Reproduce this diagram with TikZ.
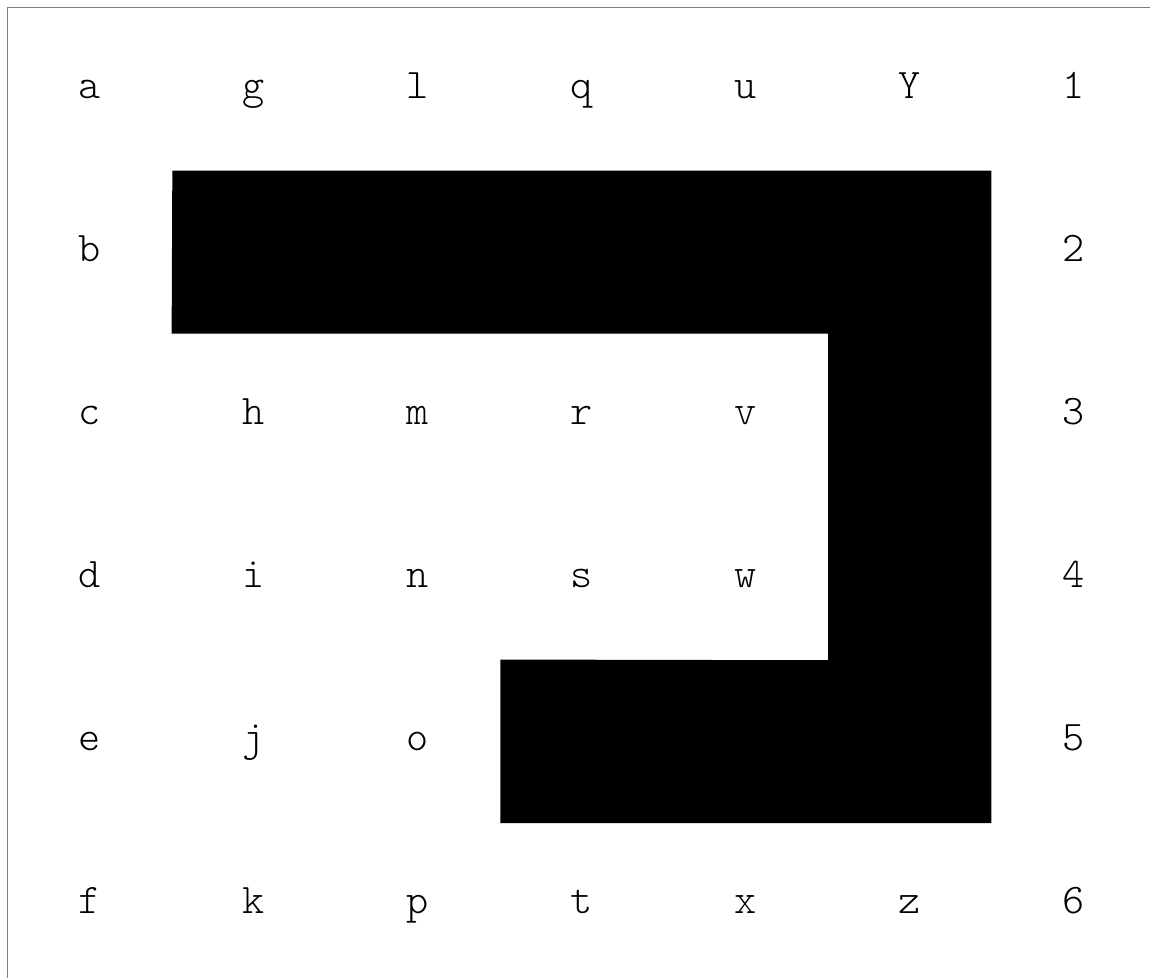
\documentclass[tikz,border=0pt]{standalone}
\usetikzlibrary{positioning}
\definecolor{frameGray}{HTML}{7F7F7F}
\tikzset{
  cell/.style={rectangle, inner sep=0pt, minimum width=3.28cm,
    minimum height=3.26cm, text height=12pt, text depth=1.2pt,
    font=\fontsize{24}{28}\fontseries{l}\ttfamily\selectfont},
  wall/.style={fill=black, draw=none},
  frameline/.style={frameGray, line width=0.85pt},
}
\begin{document}
\begin{tikzpicture}[x=0.02cm, y=-0.02cm, node distance=3.26cm and 3.28cm, on grid]
    \useasboundingbox (0,0) rectangle (1150,978);
    % row 1
    \node[cell] (a) at (90,89.5) {a};
    \node[cell, right=of a] (g) {g};
    \node[cell, right=of g] (l) {l};
    \node[cell, right=of l] (q) {q};
    \node[cell, right=of q] (u) {u};
    \node[cell, right=of u] (y) {Y};
    \node[cell, right=of y] (n1) {1};
    % row 2
    \node[cell, below=of a] (b) {b};
    \node[cell, below=of n1] (n2) {2};
    % row 3
    \node[cell, below=of b] (c) {c};
    \node[cell, right=of c] (h) {h};
    \node[cell, right=of h] (m) {m};
    \node[cell, right=of m] (r) {r};
    \node[cell, right=of r] (v) {v};
    \node[cell, below=of n2] (n3) {3};
    % row 4
    \node[cell, below=of c] (d) {d};
    \node[cell, right=of d] (i) {i};
    \node[cell, right=of i] (n) {n};
    \node[cell, right=of n] (s) {s};
    \node[cell, right=of s] (w) {w};
    \node[cell, below=of n3] (n4) {4};
    % row 5
    \node[cell, below=of d] (e) {e};
    \node[cell, right=of e] (j) {j};
    \node[cell, right=of j] (o) {o};
    \node[cell, below=of n4] (n5) {5};
    % row 6
    \node[cell, below=of e] (f) {f};
    \node[cell, right=of f] (k) {k};
    \node[cell, right=of k] (p) {p};
    \node[cell, right=of p] (t) {t};
    \node[cell, right=of t] (x) {x};
    \node[cell, right=of x] (z) {z};
    \node[cell, right=of z] (n6) {6};
    % the wall
    \fill[wall] (b.north east) -- (n2.north west) -- (n5.south west)
      -- (o.south east) -- (o.north east) -- (w.south east)
      -- (v.north east) -- (h.north west) -- cycle;
    % frame
    \coordinate (corner) at (a.north west);
    \coordinate (bottomend) at (0,978);
    \coordinate (rightend) at (1150,0);
    \draw[frameline] (corner |- bottomend) -- (corner) -- (corner -| rightend);
  \end{tikzpicture}
\end{document}
